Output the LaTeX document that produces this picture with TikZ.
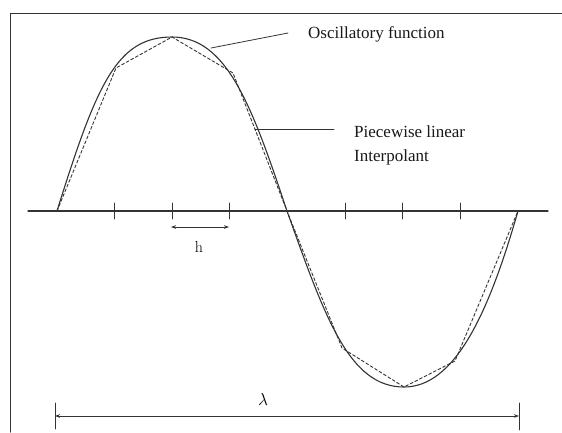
\documentclass[tikz,border=0pt]{standalone}
\usepackage{fontspec}
\newfontfamily\lab{Liberation Serif}
\usetikzlibrary{arrows.meta}
\definecolor{ink}{HTML}{333333}
\begin{document}
\begin{tikzpicture}[x=1pt,y=-1pt,line cap=round,line join=round,
  curve/.style={line width=1.1pt,draw=ink},
  interp/.style={line width=0.9pt,draw=ink,dash pattern=on 3pt off 2.2pt},
  axisline/.style={line width=1.1pt,draw=ink},
  tickmark/.style={line width=0.9pt,draw=ink},
  frameline/.style={line width=1pt,draw=ink},
  leader/.style={line width=0.8pt,draw=ink},
  dim/.style={line width=0.8pt,draw=ink,{Stealth[length=5pt,width=3.6pt]}-{Stealth[length=5pt,width=3.6pt]}},
  lbl/.style={font=\lab\fontsize{17}{24}\selectfont,inner sep=0pt,text=black!90},
  sym/.style={font=\fontsize{16}{18}\selectfont,inner sep=0pt,text=black}]
\useasboundingbox (0,0) rectangle (562,432);
\fill[white] (0,0) rectangle (562,432);
% frame
\draw[frameline] (10,432) -- (10,13) -- (562,13);
% axis
\coordinate (axL) at (28,211);
\coordinate (axR) at (548,211);
\draw[axisline] (axL) -- (axR);
\foreach \k in {1,2,3,5,6,7}
  \draw[tickmark] ({57+57.6*\k},203) -- ({57+57.6*\k},219);
% oscillatory function
\coordinate (z0) at (57,211);
\coordinate (pk) at (172,37);
\coordinate (z1) at (287,211);
\coordinate (tr) at (404,387);
\coordinate (z2) at (518,211);
\draw[curve] (z0) .. controls (97,83) and (117,37) .. (pk)
  .. controls (227,37) and (252,106) .. (z1)
  .. controls (325,317.4) and (349,387) .. (tr)
  .. controls (454,387) and (488,316) .. (z2);
% piecewise linear interpolant
\draw[interp] (z0) -- (116,68) -- (pk) -- (233,73) -- (z1)
  -- (342,348) -- (tr) -- (455,361) -- (z2);
% labels
\node[lbl,anchor=base west] (osc) at (308,38) {Oscillatory function};
\node[lbl,anchor=base west] (pw1) at (354,137) {Piecewise linear};
\node[lbl,anchor=base west] (pw2) at (354,161) {Interpolant};
\coordinate (oscP) at (211,48);
\coordinate (oscE) at (288,33);
\coordinate (pwP) at (255,129);
\coordinate (pwE) at (334,129);
\draw[leader] (oscP) -- (oscE);
\draw[leader] (pwP) -- (pwE);
% h
\coordinate (hL) at (171,227);
\coordinate (hR) at (229,227);
\draw[dim] (hL) -- (hR);
\node[sym,anchor=base] (h) at (199,252) {h};
% lambda
\coordinate (lT) at (55,403);
\coordinate (lB) at (55,429);
\coordinate (rT) at (519,403);
\coordinate (rB) at (519,430);
\draw[tickmark] (lT) -- (lB);
\draw[tickmark] (rT) -- (rB);
\coordinate (lM) at (55,416);
\coordinate (rM) at (519,416);
\draw[dim] (lM) -- (rM);
\node[sym,anchor=base] (lam) at (263,405) {$\lambda$};
\end{tikzpicture}
\end{document}
